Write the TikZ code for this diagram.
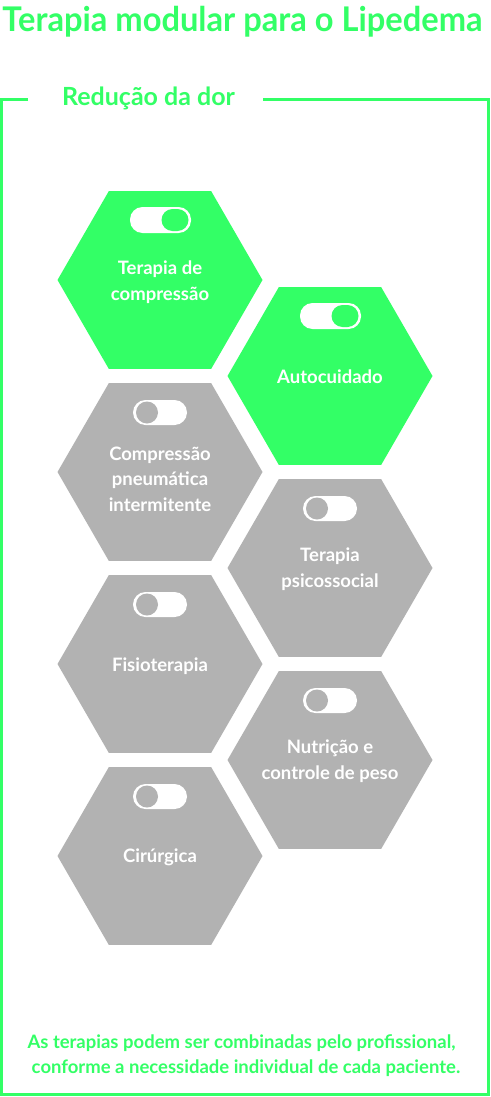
\documentclass[tikz,border=0pt]{standalone}
\usepackage{fontspec}
\setmainfont{Lato}
\newfontfamily\titlefont[FakeStretch=0.96]{Lato}
\usetikzlibrary{shapes.geometric}
\definecolor{lgreen}{RGB}{51,255,102}
\definecolor{lgray}{RGB}{178,178,178}
\begin{document}
\begin{tikzpicture}[x=1pt,y=-1pt,
  hexon/.style={regular polygon, regular polygon sides=6, minimum size=205pt, inner sep=0pt, outer sep=0pt, fill=lgreen, draw=none},
  hexoff/.style={hexon, fill=lgray},
  hextext/.style={text=white, font=\bfseries\fontsize{18.5}{25.5}\selectfont, align=center, inner sep=0pt},
  togbody/.style={fill=white, rounded corners=12.5pt, inner sep=0pt, outer sep=0pt},
  knobon/.style={fill=lgreen, rounded corners=11pt, minimum width=27pt, minimum height=22pt, inner sep=0pt},
  knoboff/.style={fill=lgray, circle, minimum size=22pt, inner sep=0pt},
  greentext/.style={text=lgreen, font=\bfseries, inner sep=0pt}]
\useasboundingbox (0,0) rectangle (490,1097);
\fill[white] (0,0) rectangle (490,1097);
% title
\node[greentext, font=\titlefont\bfseries\fontsize{34}{40}\selectfont, anchor=base] (title) at (242.5,32) {Terapia modular para o Lipedema};
% frame
\coordinate (fa) at (28,99.5);
\coordinate (fb) at (263,99.5);
\draw[lgreen, line width=2.5pt] (fa) -- (1.5,99.5) -- (1.5,1094.5) -- (488.5,1094.5) -- (488.5,99.5) -- (fb);
\node[greentext, font=\bfseries\fontsize{25}{28}\selectfont, anchor=base] (sub) at (148.5,106) {Redução da dor};
% hexagons
\node[hexon] (h1) at (160,280) {};
\node[hexon] (h2) at (330,376) {};
\node[hexoff] (h3) at (160,472) {};
\node[hexoff] (h4) at (330,568) {};
\node[hexoff] (h5) at (160,664) {};
\node[hexoff] (h6) at (330,760) {};
\node[hexoff] (h7) at (160,856) {};
% toggles on
\node[togbody, minimum width=61pt, minimum height=26pt] (t1) at (160.5,220) {};
\node[knobon] (k1) at (175,220) {};
\node[togbody, minimum width=61pt, minimum height=26pt] (t2) at (330.5,316) {};
\node[knobon] (k2) at (345,316) {};
% toggles off
\foreach \n/\x/\y in {3/160/412.5, 4/330/508.5, 5/160/604.5, 6/330/700.5, 7/160/796.5}{
  \node[togbody, minimum width=54pt, minimum height=25pt] (t\n) at (\x,\y) {};
  \node[knoboff] (k\n) at (\x-13,\y) {};
}
% texts
\node[hextext] (l1) at (160,282) {Terapia de\\compressão};
\node[hextext] (l2) at (330,377) {Autocuidado};
\node[hextext] (l3) at (160,479) {Compressão\\pneumática\\intermitente};
\node[hextext] (l4) at (330,569) {Terapia\\psicossocial};
\node[hextext] (l5) at (160,666) {Fisioterapia};
\node[hextext] (l6) at (330,761) {Nutrição e\\controle de peso};
\node[hextext] (l7) at (160,857) {Cirúrgica};
% footer
\node[greentext, font=\bfseries\fontsize{18.5}{25}\selectfont, anchor=base] (f1) at (241.5,1048) {As terapias podem ser combinadas pelo profissional,};
\node[greentext, font=\bfseries\fontsize{18.5}{25}\selectfont, anchor=base] (f2) at (246,1073) {conforme a necessidade individual de cada paciente.};
\end{tikzpicture}
\end{document}
